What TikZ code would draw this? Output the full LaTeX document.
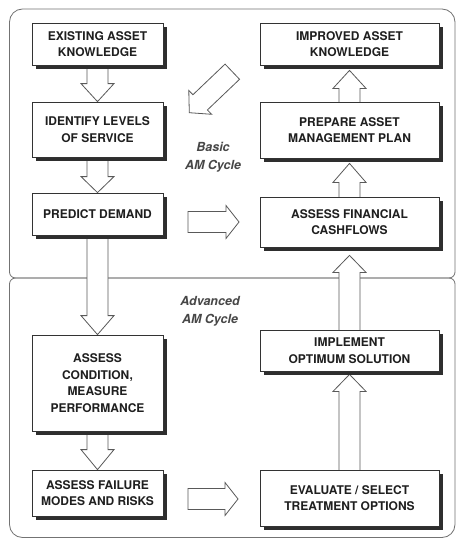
\documentclass[tikz,border=0pt]{standalone}
\usepackage{fontspec}
\setmainfont{TeX Gyre Heros}
\usetikzlibrary{calc}
\pgfdeclarelayer{bg}
\pgfdeclarelayer{arr}
\pgfsetlayers{bg,arr,main}

\tikzset{
  box/.style={draw=black!80, line width=0.8pt, fill=white, align=center,
    inner sep=0pt, text=black!88,
    font=\bfseries\fontsize{12}{16.6}\selectfont,
    preaction={fill=black!82, transform canvas={xshift=3.5pt, yshift=-4pt}}},
  lbox/.style={box, minimum width=131pt},
  rbox/.style={box, minimum width=179pt},
  panel/.style={draw=black!55, line width=0.8pt},
  blockarrow/.style={draw=black!65, line width=0.8pt, fill=white, line join=miter},
  cyclelabel/.style={align=center, text=black!72,
    font=\bfseries\itshape\fontsize{12.5}{18}\selectfont}
}

% outlined block arrow from #2 to #3, head length #1
\newcommand\blockarrow[3][18]{%
  \draw[blockarrow] let \p1=(#2), \p2=(#3),
      \n1={atan2(\y2-\y1,\x2-\x1)}, \n2={veclen(\x2-\x1,\y2-\y1)} in
    ([shift={(\p1)},rotate=\n1]0,-10.5)
    -- ([shift={(\p1)},rotate=\n1]{\n2-#1},-10.5)
    -- ([shift={(\p1)},rotate=\n1]{\n2-#1},-16.5)
    -- ([shift={(\p1)},rotate=\n1]{\n2},0)
    -- ([shift={(\p1)},rotate=\n1]{\n2-#1},16.5)
    -- ([shift={(\p1)},rotate=\n1]{\n2-#1},10.5)
    -- ([shift={(\p1)},rotate=\n1]0,10.5) -- cycle;}

\begin{document}
\begin{tikzpicture}[x=1pt,y=-1pt]
\useasboundingbox (0,0) rectangle (457,538);

% boxes, left column
\node[lbox, minimum height=42pt] (L1) at (97.5,44) {EXISTING ASSET\\KNOWLEDGE};
\node[lbox, minimum height=55pt] (L2) at (97.5,129.5) {IDENTIFY LEVELS\\OF SERVICE};
\node[lbox, minimum height=42pt] (L3) at (97.5,214) {PREDICT DEMAND};
\node[lbox, minimum height=96pt] (L4) at (97.5,383) {ASSESS\\CONDITION,\\MEASURE\\PERFORMANCE};
\node[lbox, minimum height=46pt] (L5) at (97.5,493) {ASSESS FAILURE\\MODES AND RISKS};

% boxes, right column
\node[rbox, minimum height=42pt] (R1) at (349.5,44) {IMPROVED ASSET\\KNOWLEDGE};
\node[rbox, minimum height=56pt] (R2) at (349.5,130) {PREPARE ASSET\\MANAGEMENT PLAN};
\node[rbox, minimum height=50pt] (R3) at (349.5,222) {ASSESS FINANCIAL\\CASHFLOWS};
\node[rbox, minimum height=41pt] (R4) at (349.5,350.5) {IMPLEMENT\\OPTIMUM SOLUTION};
\node[rbox, minimum height=56pt] (R5) at (349.5,498) {EVALUATE / SELECT\\TREATMENT OPTIONS};

% cycle labels
\node[cyclelabel] (basic) at (213,157) {Basic\\AM Cycle};
\node[cyclelabel] (adv) at (210,311) {Advanced\\AM Cycle};

% free ends of the loose arrows
\coordinate (h1s) at (188,222);
\coordinate (h1e) at (239,222);
\coordinate (h2s) at (188,499);
\coordinate (h2e) at (238,499);
\coordinate (ds) at (232.3,71.7);
\coordinate (de) at (189.3,112.7);

% background and panels
\begin{pgfonlayer}{bg}
\fill[white] (0,0) rectangle (457,538);
\draw[panel] (9.5,272) -- (9.5,22) .. controls (9.5,14.8) and (15.3,9) .. (22.5,9)
  -- (442,9) .. controls (449.2,9) and (455,14.8) .. (455,22)
  -- (455,272) .. controls (455,275.3) and (452.3,278) .. (449,278)
  -- (15.5,278) .. controls (12.2,278) and (9.5,275.3) .. (9.5,272) -- cycle;
\draw[panel] (15.5,278) -- (449,278) .. controls (452.3,278) and (455,280.7) .. (455,284)
  -- (455,524.5) .. controls (455,531.7) and (449.2,537.5) .. (442,537.5)
  -- (22.5,537.5) .. controls (15.3,537.5) and (9.5,531.7) .. (9.5,524.5)
  -- (9.5,284) .. controls (9.5,280.7) and (12.2,278) .. (15.5,278) -- cycle;
\end{pgfonlayer}

% arrows
\begin{pgfonlayer}{arr}
\blockarrow{L1.center}{L2.north}
\blockarrow[16]{L2.center}{L3.north}
\blockarrow[19]{L3.center}{L4.north}
\blockarrow[20]{L4.center}{L5.north}
\blockarrow[17]{R5.center}{$(R4.south)+(0,3)$}
\blockarrow[17]{R4.center}{$(R3.south)+(0,8)$}
\blockarrow[19]{R3.center}{$(R2.south)+(0,5)$}
\blockarrow[18]{R2.center}{$(R1.south)+(0,5)$}
\blockarrow[13]{h1s}{h1e}
\blockarrow[13]{h2s}{h2e}
\blockarrow[15]{ds}{de}
\end{pgfonlayer}
\end{tikzpicture}
\end{document}
